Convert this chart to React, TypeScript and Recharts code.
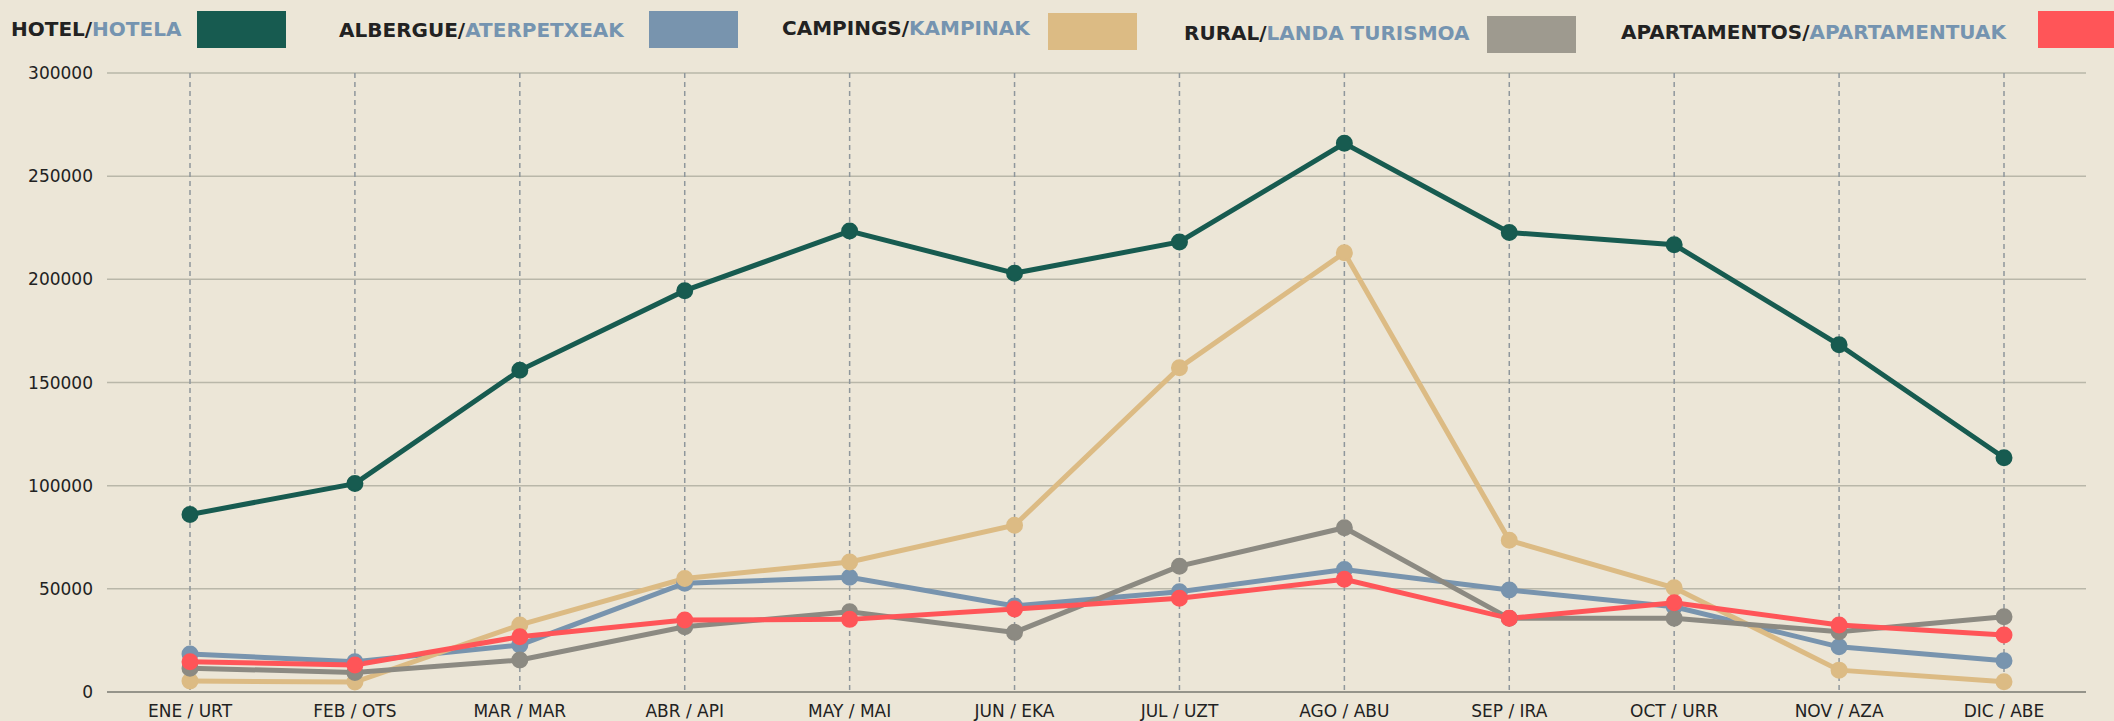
import React from 'react';
import { LineChart, Line, XAxis, YAxis, CartesianGrid } from 'recharts';

const months = ['ENE / URT', 'FEB / OTS', 'MAR / MAR', 'ABR / API', 'MAY / MAI', 'JUN / EKA', 'JUL / UZT', 'AGO / ABU', 'SEP / IRA', 'OCT / URR', 'NOV / AZA', 'DIC / ABE'];
const hotel = [86000, 101000, 155900, 194500, 223400, 203000, 218100, 265900, 222700, 216800, 168300, 113500];
const albergue = [18400, 14700, 22800, 52700, 55600, 41700, 48600, 59400, 49400, 41300, 21900, 15200];
const campings = [5300, 4800, 32500, 55000, 63000, 80800, 157200, 212900, 73500, 50500, 10600, 5000];
const rural = [11500, 9500, 15500, 31600, 38900, 28900, 61000, 79600, 35700, 35700, 29200, 36500];
const apartamentos = [14700, 13100, 26800, 34900, 35200, 40200, 45400, 54600, 35700, 43300, 32500, 27600];
const yTicks = [0, 50000, 100000, 150000, 200000, 250000, 300000];

const seriesKeys = ['hotel', 'albergue', 'campings', 'rural', 'apartamentos'];
const seriesEs = ['HOTEL/', 'ALBERGUE/', 'CAMPINGS/', 'RURAL/', 'APARTAMENTOS/'];
const seriesEu = ['HOTELA', 'ATERPETXEAK', 'KAMPINAK', 'LANDA TURISMOA', 'APARTAMENTUAK'];
const lineColors = ['#175b50', '#7894ae', '#dcbb84', '#8c8a82', '#ff5558'];
const legendColors = ['#175b50', '#7894ae', '#dcbb84', '#9e9a8f', '#ff5558'];

const data = months.map((m, i) => ({
  month: m,
  hotel: hotel[i],
  albergue: albergue[i],
  campings: campings[i],
  rural: rural[i],
  apartamentos: apartamentos[i],
}));

const FONT = '"DejaVu Sans", sans-serif';

// legend layout (pixel positions)
const legendTextX = [11, 339, 782, 1184, 1621];
const legendBaseY = [36, 37, 35, 40, 39];
const legendRectX = [197, 649, 1048, 1487, 2038];
const legendRectY = [11, 11, 13, 16, 11];

export default function App() {
  return (
    <div style={{ position: 'absolute', left: 0, top: 0, width: 2114, height: 721, background: '#ece6d7', overflow: 'hidden' }}>
      <svg width={2114} height={60} style={{ position: 'absolute', left: 0, top: 0 }}>
        {seriesKeys.map((k, i) => (
          <g key={k}>
            <text x={legendTextX[i]} y={legendBaseY[i]} fontFamily={FONT} fontSize={20} fontWeight={700}>
              <tspan fill="#222222">{seriesEs[i]}</tspan>
              <tspan fill="#7594b0">{seriesEu[i]}</tspan>
            </text>
            <rect x={legendRectX[i]} y={legendRectY[i]} width={89} height={37} fill={legendColors[i]} />
          </g>
        ))}
      </svg>
      <div style={{ position: 'absolute', left: 0, top: 0 }}>
        <LineChart width={2114} height={721} data={data} margin={{ top: 73, right: 28, left: 0, bottom: 0 }}>
          <CartesianGrid horizontal={true} vertical={false} stroke="#b9b7a9" strokeWidth={1.5} />
          <CartesianGrid horizontal={false} vertical={true} syncWithTicks={true} stroke="#8f979c" strokeWidth={1.5} strokeDasharray="5 4" />
          <XAxis
            dataKey="month"
            height={29}
            padding={{ left: 83, right: 82 }}
            tickLine={false}
            tickMargin={7}
            axisLine={{ stroke: '#85857c', strokeWidth: 1.5 }}
            tick={{ fill: '#222222', fontSize: 17, fontFamily: FONT }}
            interval={0}
          />
          <YAxis
            width={107}
            domain={[0, 300000]}
            ticks={yTicks}
            axisLine={false}
            tickLine={false}
            tickMargin={8}
            tick={{ fill: '#222222', fontSize: 17, fontFamily: FONT }}
            interval={0}
          />
          {seriesKeys.map((k, i) => (
            <Line
              key={k}
              type="linear"
              dataKey={k}
              stroke={lineColors[i]}
              strokeWidth={5}
              dot={{ r: 7.5, fill: lineColors[i], stroke: lineColors[i], strokeWidth: 2 }}
              activeDot={false}
              isAnimationActive={false}
            />
          ))}
        </LineChart>
      </div>
    </div>
  );
}
